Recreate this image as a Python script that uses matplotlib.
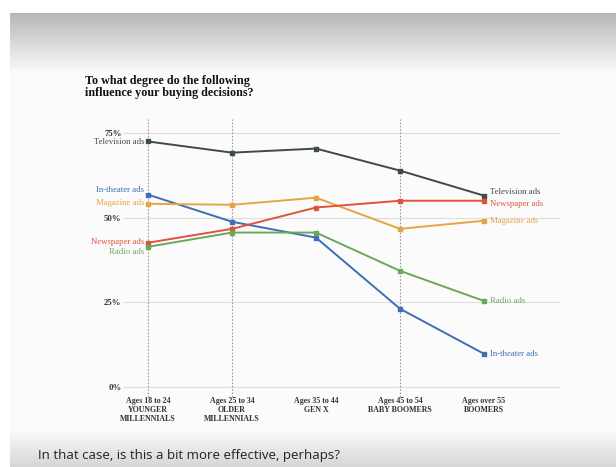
"""
Slope chart: influence of ad channels on buying decisions by age group
"""

import numpy as np
import matplotlib.pyplot as plt

# Datos
age_groups = ["Ages 18 to 24\nYOUNGER\nMILLENNIALS",
              "Ages 25 to 34\nOLDER\nMILLENNIALS",
              "Ages 35 to 44\nGEN X",
              "Ages 45 to 54\nBABY BOOMERS",
              "Ages over 55\nBOOMERS"]
series_names = ["Television ads", "In-theater ads", "Magazine ads",
                "Newspaper ads", "Radio ads"]
television = [72.5, 69.2, 70.4, 63.9, 56.5]
in_theater = [56.8, 48.8, 44.1, 23.1, 9.8]
magazine = [54.1, 53.8, 55.9, 46.7, 49.1]
newspaper = [42.6, 46.7, 53.0, 55.0, 55.0]
radio = [41.4, 45.6, 45.6, 34.3, 25.4]
y_ticks = [0, 25, 50, 75]
y_tick_labels = ["0%", "25%", "50%", "75%"]

values = [television, in_theater, magazine, newspaper, radio]
colors = ["#3f4b47", "#3c6fb4", "#e8a444", "#e0533f", "#6aa85a"]
# desplazamientos verticales (px) para que las etiquetas no se pisen
left_shift = [-1, 5, 1, 1, -5]
right_shift = [4, 0, 0, -3, 0]

W, H = 616, 467
fig = plt.figure(figsize=(W / 100, H / 100), dpi=100)

# Fondo de la diapositiva con degradados arriba y abajo
bg = np.ones((H, W, 3))
top = np.linspace(0.72, 0.97, 57)
bg[13:70, 10:, :] = top[:, None, None]
bg[70:432, 10:, :] = 0.985
bottom = np.linspace(0.975, 0.84, 35)
bg[432:, 10:, :] = bottom[:, None, None]
bga = fig.add_axes([0, 0, 1, 1])
bga.imshow(bg, aspect="auto", interpolation="bilinear")
bga.axis("off")

x0, x1 = 148, 484
y0, y1 = 387, 133
ax = fig.add_axes([x0 / W, (H - y0) / H, (x1 - x0) / W, (y0 - y1) / H])
ax.set_facecolor("none")
ax.set_xlim(0, len(age_groups) - 1)
ax.set_ylim(0, 75)
for s in ax.spines.values():
    s.set_visible(False)

serif = "Liberation Serif"
xs = np.arange(len(age_groups))

# Lineas guia
ax.hlines(y_ticks, -0.3, 4.9, color="#dedede", lw=0.8, clip_on=False, zorder=0)
for i in [0, 1, 3]:
    ax.vlines(i, -3, 79, color="#9a9a9a", lw=0.8, ls=(0, (1.5, 1.5)),
              clip_on=False, zorder=0)

for name, vals, c, dl, dr in zip(series_names, values, colors,
                                 left_shift, right_shift):
    ax.plot(xs, vals, color=c, lw=1.4, marker="s", ms=3.2, clip_on=False,
            zorder=3)
    ax.annotate(name, (0, vals[0]), xytext=(-4, dl), textcoords="offset pixels",
                ha="right", va="center", fontsize=6.3, color=c, family=serif)
    ax.annotate(name, (4, vals[-1]), xytext=(6, dr), textcoords="offset pixels",
                ha="left", va="center", fontsize=6.3, color=c, family=serif)

ax.set_yticks(y_ticks)
ax.set_yticklabels(y_tick_labels, family=serif, fontsize=6.3,
                   fontweight="bold", color="#333333")
ax.tick_params(axis="y", length=0, pad=19)
ax.set_xticks(xs)
ax.set_xticklabels(age_groups, family=serif, fontsize=5.7, fontweight="bold",
                   color="#333333", linespacing=1.15)
ax.tick_params(axis="x", length=0, pad=7)

fig.text(85 / W, 1 - 75 / H,
         "To what degree do the following\ninfluence your buying decisions?",
         ha="left", va="top", fontsize=8.7, family=serif, fontweight="bold",
         color="#111111", linespacing=1.0)

fig.text(38 / W, 1 - 455 / H,
         "In that case, is this a bit more effective, perhaps?",
         ha="left", va="center", fontsize=9.5, family="Open Sans",
         color="#222222")

fig.savefig("out.png", dpi=100)
